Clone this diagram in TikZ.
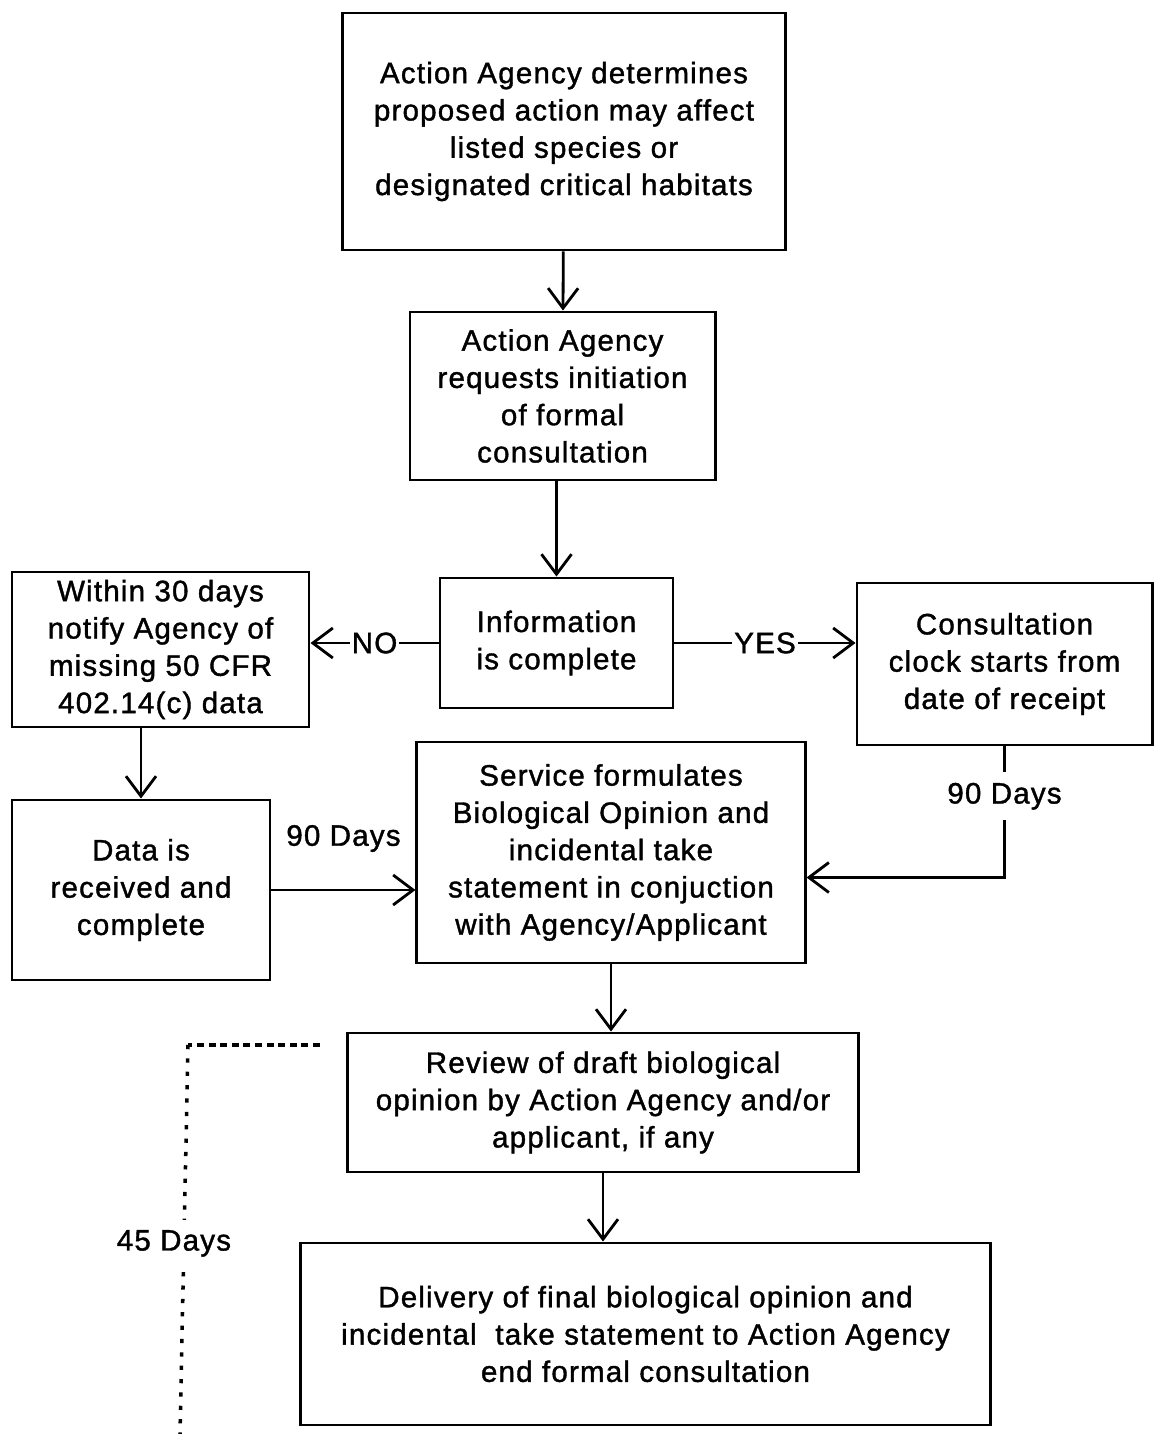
\documentclass[tikz,border=0pt]{standalone}
\usepackage{fontspec}
\setmainfont{Liberation Sans}
\newfontfamily\figfont{Liberation Sans}[FakeBold=1.3, LetterSpace=4]
\usetikzlibrary{arrows.meta}
\tikzset{
  box/.style={draw, thick, align=center, inner sep=0pt},
  arr/.style={thick, -{Straight Barb[length=2mm,width=3mm]}},
  lbl/.style={fill=white, inner sep=0.6pt},
}
\begin{document}
\begin{tikzpicture}[x=0.01cm, y=-0.01cm, font=\figfont\fontsize{8.4}{10.6}\selectfont]
\useasboundingbox (0,0) rectangle (1154,1434);
% boxes
\node[box, minimum width=4.42cm, minimum height=2.37cm] (act) at (564,131.5)
  {Action Agency determines\\proposed action may affect\\listed species or\\designated critical habitats};
\node[box, minimum width=3.05cm, minimum height=1.68cm] (req) at (562.5,396)
  {Action Agency\\requests initiation\\of formal\\consultation};
\node[box, minimum width=2.33cm, minimum height=1.30cm] (info) at (556.5,643)
  {Information\\is complete};
\node[box, minimum width=2.97cm, minimum height=1.55cm] (notify) at (160.5,649.5)
  {Within 30 days\\notify Agency of\\missing 50 CFR\\402.14(c) data};
\node[box, minimum width=2.95cm, minimum height=1.62cm] (clock) at (1004.5,664)
  {Consultation\\clock starts from\\date of receipt};
\node[box, minimum width=2.58cm, minimum height=1.80cm] (data) at (141,890)
  {Data is\\received and\\complete};
\node[box, minimum width=3.88cm, minimum height=2.21cm] (serv) at (611,852.5)
  {Service formulates\\Biological Opinion and\\incidental take\\statement in conjuction\\with Agency/Applicant};
\node[box, minimum width=5.10cm, minimum height=1.39cm] (rev) at (603,1102.5)
  {Review of draft biological\\opinion by Action Agency and/or\\applicant, if any};
\node[box, minimum width=6.89cm, minimum height=1.82cm] (deliv) at (645.5,1334)
  {Delivery of final biological opinion and\\incidental\ \ take statement to Action Agency\\end formal consultation};
% connectors
\draw[arr] (act) -- (req);
\draw[arr] (info.north |- req.south) -- (info.north);
\draw[arr] (info.west) -- (info.west -| notify.east) node[midway, lbl] {NO};
\draw[arr] (info.east) -- (info.east -| clock.west) node[midway, lbl] {YES};
\draw[arr] (data.north |- notify.south) -- (data.north);
\draw[arr] (data.east) -- (data.east -| serv.west) node[midway, above=0.25cm] {90 Days};
\draw[arr] (clock.south) |- ([yshift=-0.25cm]serv.east) node[pos=0.19, lbl, inner sep=3pt] {90 Days};
\draw[arr] (serv.south) -- (serv.south |- rev.north);
\draw[arr] (rev.south) -- (rev.south |- deliv.north);
% 45 days bracket
\coordinate (dashend) at (320,1045);
\coordinate (dcorner) at (188,1045);
\coordinate (dbottom) at (180,1434);
\draw[line width=1pt, dash pattern=on 2pt off 1.3pt] (dashend) -- (dcorner);
\draw[line width=1pt, dash pattern=on 1.2pt off 2.6pt] (dcorner) -- (dbottom)
  node[pos=0.51, lbl, inner sep=3pt, xshift=-0.1cm] {45 Days};
\end{tikzpicture}
\end{document}
